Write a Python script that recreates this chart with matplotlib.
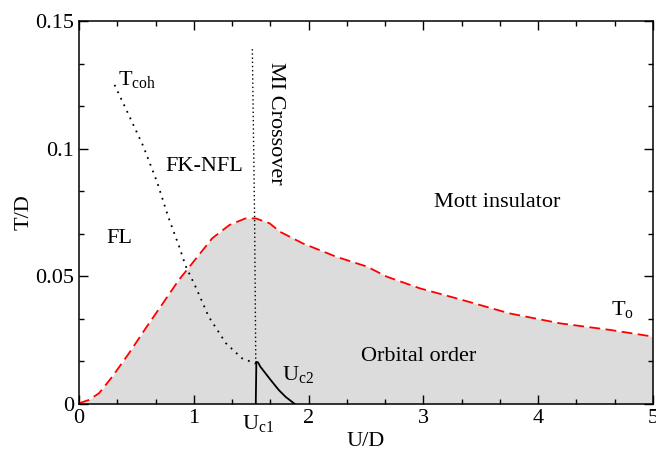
import matplotlib
matplotlib.use("Agg")
import matplotlib.pyplot as plt
import numpy as np

plt.rcParams["font.family"] = ["Liberation Serif", "DejaVu Serif"]
plt.rcParams["mathtext.fontset"] = "custom"
plt.rcParams["mathtext.rm"] = "Liberation Serif"
plt.rcParams["mathtext.it"] = "Liberation Serif:italic"

# T_o boundary (orbital order), red dashed
u_o = [0.0, 0.087, 0.174, 0.29, 0.436, 0.58, 0.73, 0.87, 1.02, 1.16, 1.31, 1.45,
       1.54, 1.66, 1.75, 1.95, 2.24, 2.51, 2.68, 2.97, 3.32, 3.75, 4.19, 4.63, 5.0]
t_o = [0.0003, 0.0016, 0.0042, 0.0107, 0.0199, 0.0296, 0.0394, 0.0486, 0.057,
       0.0649, 0.0701, 0.0727, 0.0727, 0.0708, 0.0675, 0.0629, 0.0577, 0.0538,
       0.0499, 0.0453, 0.041, 0.0355, 0.0316, 0.029, 0.0264]

# T_coh, black dotted
u_coh = [0.31, 0.415, 0.56, 0.68, 0.78, 0.87, 0.93, 1.02, 1.13, 1.28, 1.42, 1.54]
t_coh = [0.125, 0.115, 0.101, 0.087, 0.073, 0.062, 0.054, 0.0455, 0.0342,
         0.0238, 0.0179, 0.0158]

# MI crossover, black dotted
u_mi = [1.51, 1.53, 1.54]
t_mi = [0.139, 0.072, 0.016]

# U_c2 line, black solid
u_c2 = [1.54, 1.545, 1.56, 1.58, 1.67, 1.74, 1.80, 1.88]
t_c2 = [0.0, 0.0165, 0.0163, 0.0146, 0.0094, 0.0055, 0.0028, 0.0]

uc1 = 1.54

fig = plt.figure(figsize=(6.56, 4.5), dpi=100)
ax = fig.add_axes([0.1204, 0.1022, 0.875, 0.851])

ax.fill_between(u_o, 0, t_o, color="#dcdcdc", lw=0)
ax.plot(u_o, t_o, color="red", lw=1.3, ls=(0, (6, 3)))
ax.plot(u_coh, t_coh, color="black", lw=1.3, ls=(0, (1, 3)))
ax.plot(u_mi, t_mi, color="black", lw=1.0, ls=(0, (1, 2)))
ax.plot(u_c2, t_c2, color="black", lw=1.3)

ax.set_xlim(0, 5)
ax.set_ylim(0, 0.15)
ax.set_xticks([0, 1, 2, 3, 4, 5])
ax.set_xticklabels(["0", "1", "2", "3", "4", "5"])
ax.set_xticks(np.arange(0, 5.01, 1 / 3), minor=True)
ax.set_yticks([0, 0.05, 0.1, 0.15])
ax.set_yticklabels(["0", "0.05", "0.1", "0.15"])
ax.set_yticks(np.arange(0, 0.1501, 0.05 / 3), minor=True)
ax.tick_params(which="both", direction="in", top=True, right=True, labelsize=16)
ax.tick_params(which="major", length=6.5, width=1)
ax.tick_params(which="minor", length=3.5, width=1)
for s in ax.spines.values():
    s.set_linewidth(1.1)

ax.set_xlabel("U/D", fontsize=16, labelpad=3)
ax.set_ylabel("T/D", fontsize=16, labelpad=1)

ax.text(uc1 + 0.02, -0.0035, r"U$_{\rm c1}$", fontsize=16, ha="center", va="top")

ax.text(0.34, 0.125, r"T$_{\rm coh}$", fontsize=16, ha="left", va="baseline")
ax.text(0.35, 0.065, "FL", fontsize=16, ha="center", va="center")
ax.text(1.09, 0.093, "FK-NFL", fontsize=16, ha="center", va="center")
ax.text(1.71, 0.11, "MI Crossover", fontsize=16, ha="center", va="center", rotation=-90)
ax.text(3.64, 0.0789, "Mott insulator", fontsize=16, ha="center", va="center")
ax.text(2.96, 0.0188, "Orbital order", fontsize=16, ha="center", va="center")
ax.text(4.63, 0.0349, r"T$_{\rm o}$", fontsize=16, ha="left", va="baseline")
ax.text(1.77, 0.0094, r"U$_{\rm c2}$", fontsize=16, ha="left", va="baseline")

fig.savefig("out.png", dpi=100)
